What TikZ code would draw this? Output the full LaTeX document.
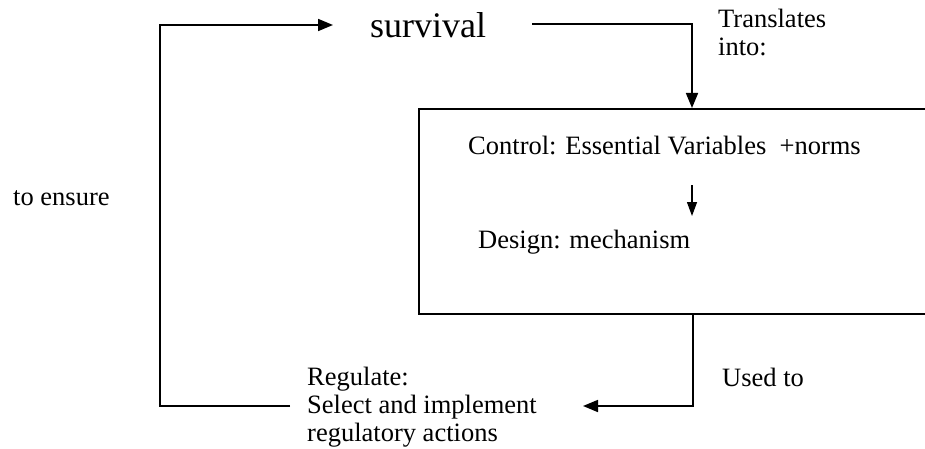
\documentclass[tikz,border=0pt]{standalone}
\usepackage{fontspec}
\setmainfont{Liberation Serif}
\usetikzlibrary{arrows.meta}
\tikzset{
  txt/.style={inner sep=0pt, font=\fontsize{26.5}{28}\selectfont},
  bigtxt/.style={inner sep=0pt, font=\fontsize{36}{40}\selectfont},
  conn/.style={line width=1.7pt, -{Triangle[width=12pt,length=15pt]}},
  thinconn/.style={line width=1.3pt, -{Triangle[width=10pt,length=14pt]}},
  frame/.style={draw, line width=2.2pt, inner sep=0pt, minimum width=560pt, minimum height=205pt}
}
\begin{document}
\begin{tikzpicture}[x=1pt,y=-1pt]
\useasboundingbox (0,0) rectangle (925,449);
\clip (0,0) rectangle (925,449);
\fill[white] (0,0) rectangle (925,449);

% nodes
\node[bigtxt, anchor=base west] (surv) at (370,38) {survival};
\node[frame, anchor=north west] (box) at (418,108) {};
\node[txt, anchor=base west] (ctrl) at (468,155) {Control: Essential Variables\ \ +norms};
\node[txt, anchor=base west] (design) at (478,248) {Design: mechanism};
\node[txt, anchor=north west, align=left] (trans) at (718,9) {Translates\\into:};
\node[txt, anchor=base west] (ensure) at (13,205) {to ensure};
\node[txt, anchor=base west] (used) at (722,386) {Used to};
\node[txt, anchor=north west, align=left] (reg) at (307,367) {Regulate:\\Select and implement\\regulatory actions};

% connector points
\coordinate (sin) at (333,25);
\coordinate (sout) at (532,24);
\coordinate (tl) at (160,25);
\coordinate (bl) at (160,406);
\coordinate (lend) at (290,406);
\coordinate (tr) at (692,24);
\coordinate (bd) at (693,406);
\coordinate (atip) at (583,406);
\coordinate (ca) at (692,185);
\coordinate (cb) at (692,216);

% connectors
\draw[conn] (lend) -- (bl) -- (tl) -- (sin);
\draw[conn] (sout) -- (tr) -- (box.north -| tr);
\draw[conn] (box.south -| bd) -- (bd) -- (atip);
\draw[thinconn] (ca) -- (cb);
\end{tikzpicture}
\end{document}
